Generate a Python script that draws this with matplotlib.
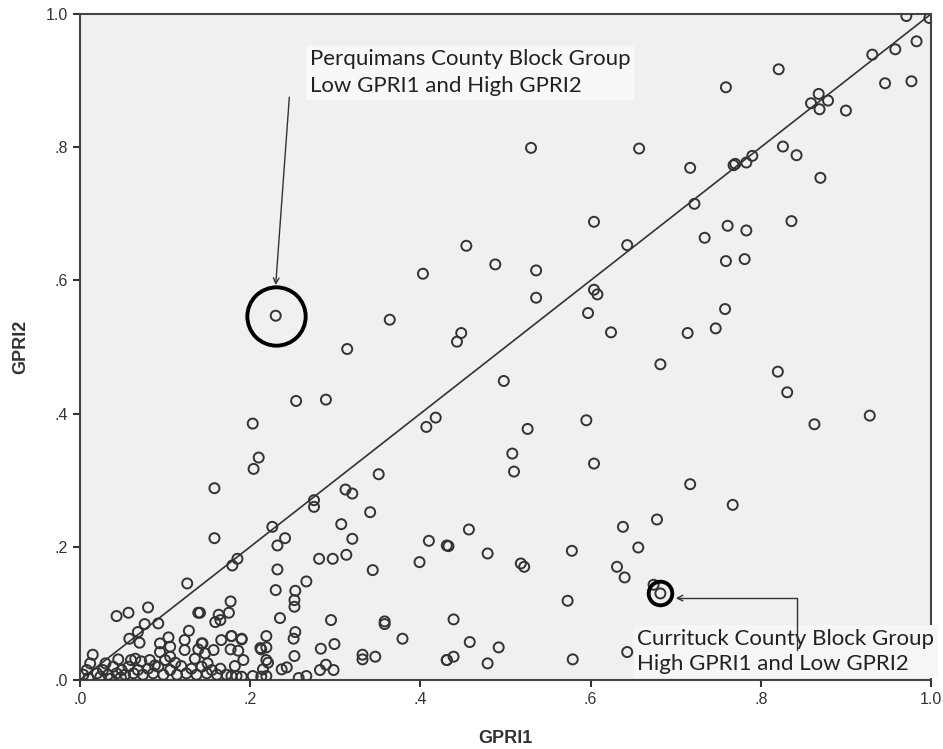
import matplotlib
matplotlib.use("Agg")
import matplotlib.pyplot as plt

# GPRI1 / GPRI2 values
gpri1 = [
    0.971, 0.998, 0.983, 0.958, 0.931, 0.977, 0.946, 0.821, 0.759, 0.868,
    0.859, 0.879, 0.869, 0.900, 0.657, 0.826, 0.842, 0.870, 0.717, 0.768,
    0.770, 0.783, 0.790, 0.722, 0.643, 0.734, 0.761, 0.783, 0.836, 0.604,
    0.530, 0.759, 0.781, 0.758, 0.714, 0.747, 0.820, 0.831, 0.863, 0.928,
    0.454, 0.403, 0.488, 0.536, 0.536, 0.604, 0.608, 0.597, 0.624, 0.682,
    0.448, 0.443, 0.498, 0.418, 0.407, 0.595, 0.526, 0.230, 0.364, 0.314,
    0.254, 0.289, 0.203, 0.210, 0.204, 0.158, 0.158, 0.351, 0.312, 0.320,
    0.275, 0.275, 0.341, 0.307, 0.320, 0.226, 0.241, 0.232, 0.185, 0.179,
    0.281, 0.297, 0.313, 0.344, 0.399, 0.410, 0.431, 0.232, 0.266, 0.230,
    0.253, 0.252, 0.252, 0.177, 0.175, 0.163, 0.159, 0.165, 0.141, 0.235,
    0.295, 0.358, 0.358, 0.379, 0.253, 0.251, 0.219, 0.213, 0.219, 0.252,
    0.283, 0.299, 0.332, 0.332, 0.347, 0.431, 0.144, 0.157, 0.178, 0.190,
    0.177, 0.186, 0.182, 0.165, 0.221, 0.215, 0.237, 0.243, 0.282, 0.289,
    0.298, 0.219, 0.203, 0.190, 0.257, 0.266, 0.178, 0.508, 0.510, 0.604,
    0.717, 0.638, 0.678, 0.656, 0.578, 0.457, 0.433, 0.479, 0.518, 0.522,
    0.631, 0.640, 0.674, 0.682, 0.573, 0.439, 0.458, 0.492, 0.439, 0.431,
    0.479, 0.579, 0.643, 0.767, 0.126, 0.043, 0.057, 0.080, 0.092, 0.139,
    0.076, 0.068, 0.058, 0.070, 0.128, 0.104, 0.106, 0.094, 0.123, 0.143,
    0.166, 0.178, 0.190, 0.015, 0.012, 0.045, 0.065, 0.082, 0.094, 0.106,
    0.123, 0.139, 0.212, 0.004, 0.008, 0.020, 0.027, 0.033, 0.039, 0.043,
    0.049, 0.053, 0.057, 0.063, 0.068, 0.074, 0.080, 0.086, 0.092, 0.098,
    0.106, 0.114, 0.119, 0.125, 0.131, 0.137, 0.143, 0.149, 0.155, 0.161,
    0.172, 0.184, 0.192, 0.213, 0.219, 0.147, 0.150, 0.010, 0.024, 0.036,
    0.048, 0.030, 0.060, 0.072, 0.088, 0.100, 0.112, 0.135,
]
gpri2 = [
    0.997, 0.994, 0.959, 0.947, 0.939, 0.899, 0.896, 0.917, 0.890, 0.880,
    0.866, 0.870, 0.857, 0.855, 0.798, 0.801, 0.788, 0.754, 0.769, 0.773,
    0.775, 0.777, 0.787, 0.715, 0.653, 0.664, 0.682, 0.675, 0.689, 0.688,
    0.799, 0.629, 0.632, 0.557, 0.521, 0.528, 0.463, 0.432, 0.384, 0.397,
    0.652, 0.610, 0.624, 0.615, 0.574, 0.586, 0.579, 0.551, 0.522, 0.474,
    0.521, 0.508, 0.449, 0.394, 0.380, 0.390, 0.377, 0.547, 0.541, 0.497,
    0.419, 0.421, 0.385, 0.334, 0.317, 0.288, 0.213, 0.309, 0.286, 0.280,
    0.270, 0.260, 0.252, 0.234, 0.212, 0.230, 0.213, 0.202, 0.182, 0.172,
    0.182, 0.182, 0.188, 0.165, 0.177, 0.209, 0.202, 0.166, 0.148, 0.135,
    0.134, 0.120, 0.110, 0.118, 0.101, 0.098, 0.087, 0.090, 0.101, 0.093,
    0.090, 0.088, 0.084, 0.062, 0.072, 0.062, 0.066, 0.046, 0.049, 0.036,
    0.047, 0.054, 0.038, 0.031, 0.035, 0.030, 0.055, 0.045, 0.066, 0.062,
    0.046, 0.044, 0.021, 0.017, 0.026, 0.016, 0.016, 0.019, 0.015, 0.023,
    0.015, 0.006, 0.006, 0.005, 0.003, 0.006, 0.006, 0.340, 0.313, 0.325,
    0.294, 0.230, 0.241, 0.199, 0.194, 0.226, 0.201, 0.190, 0.175, 0.170,
    0.170, 0.154, 0.143, 0.130, 0.119, 0.091, 0.057, 0.049, 0.035, 0.030,
    0.025, 0.031, 0.042, 0.263, 0.145, 0.096, 0.101, 0.109, 0.085, 0.101,
    0.084, 0.072, 0.062, 0.056, 0.074, 0.064, 0.050, 0.055, 0.060, 0.055,
    0.060, 0.066, 0.061, 0.038, 0.025, 0.031, 0.032, 0.030, 0.042, 0.035,
    0.045, 0.046, 0.048, 0.008, 0.015, 0.010, 0.015, 0.008, 0.020, 0.010,
    0.015, 0.008, 0.020, 0.010, 0.015, 0.008, 0.017, 0.010, 0.020, 0.008,
    0.015, 0.008, 0.021, 0.010, 0.017, 0.008, 0.020, 0.010, 0.015, 0.008,
    0.008, 0.006, 0.030, 0.005, 0.030, 0.040, 0.025, 0.003, 0.005, 0.002,
    0.004, 0.025, 0.030, 0.028, 0.022, 0.030, 0.026, 0.032,
]

# highlighted block groups
perq_x, perq_y = 0.230, 0.547
curr_x, curr_y = 0.682, 0.130

ticks = [0.0, 0.2, 0.4, 0.6, 0.8, 1.0]
tick_labels = [".0", ".2", ".4", ".6", ".8", "1.0"]

fig = plt.figure(figsize=(9.43, 7.49), dpi=100)
ax = fig.add_axes([0.0848, 0.0921, 0.9025, 0.8892])
ax.set_facecolor("#f0f0f0")

# reference line y = x
ax.plot([0, 1], [0, 1], color="#333333", linewidth=1.2, zorder=2)

ax.scatter(gpri1, gpri2, s=52, facecolors="none", edgecolors="#333333",
           linewidths=1.4, zorder=3)

ax.set_xlim(0, 1)
ax.set_ylim(0, 1)
ax.set_xticks(ticks)
ax.set_xticklabels(tick_labels)
ax.set_yticks(ticks)
ax.set_yticklabels(tick_labels)
ax.tick_params(direction="out", length=5, width=1.5, color="#333333",
               labelsize=11.5, labelcolor="#333333")
for lab in ax.get_xticklabels() + ax.get_yticklabels():
    lab.set_family("Liberation Sans")
for sp in ax.spines.values():
    sp.set_linewidth(1.5)
    sp.set_color("#444444")

ax.set_xlabel("GPRI1", fontsize=13, fontweight="bold", family="Liberation Sans",
              color="#333333", labelpad=17)
ax.set_ylabel("GPRI2", fontsize=13, fontweight="bold", family="Liberation Sans",
              color="#333333", labelpad=12)

# Perquimans highlight
ax.plot([perq_x], [perq_y], marker="o", markersize=42, markerfacecolor="none",
        markeredgecolor="black", markeredgewidth=2.8, zorder=4)
ax.text(0.270, 0.912, "Perquimans County Block Group\nLow GPRI1 and High GPRI2",
        fontsize=16, family="Lato", color="#222222", va="center", ha="left",
        linespacing=1.45, zorder=5,
        bbox=dict(boxstyle="square,pad=0.15", facecolor="#f8f8f8", edgecolor="none"))
ax.annotate("", xy=(perq_x, perq_y + 0.046), xytext=(0.246, 0.875),
            arrowprops=dict(arrowstyle="->", color="#333333", lw=1,
                            shrinkA=0, shrinkB=0), zorder=6)

# Currituck highlight
ax.plot([curr_x], [curr_y], marker="o", markersize=17, markerfacecolor="none",
        markeredgecolor="black", markeredgewidth=2.8, zorder=4)
ax.text(0.655, 0.043, "Currituck County Block Group\nHigh GPRI1 and Low GPRI2",
        fontsize=16, family="Lato", color="#222222", va="center", ha="left",
        linespacing=1.35, zorder=5,
        bbox=dict(boxstyle="square,pad=0.15", facecolor="#f6f6f6", edgecolor="none"))
ax.annotate("", xy=(curr_x + 0.018, curr_y - 0.007), xytext=(0.843, 0.045),
            arrowprops=dict(arrowstyle="->", color="#333333", lw=1,
                            shrinkA=0, shrinkB=0,
                            connectionstyle="angle,angleA=90,angleB=0,rad=0"),
            zorder=6)

fig.savefig("out.png", dpi=100)
